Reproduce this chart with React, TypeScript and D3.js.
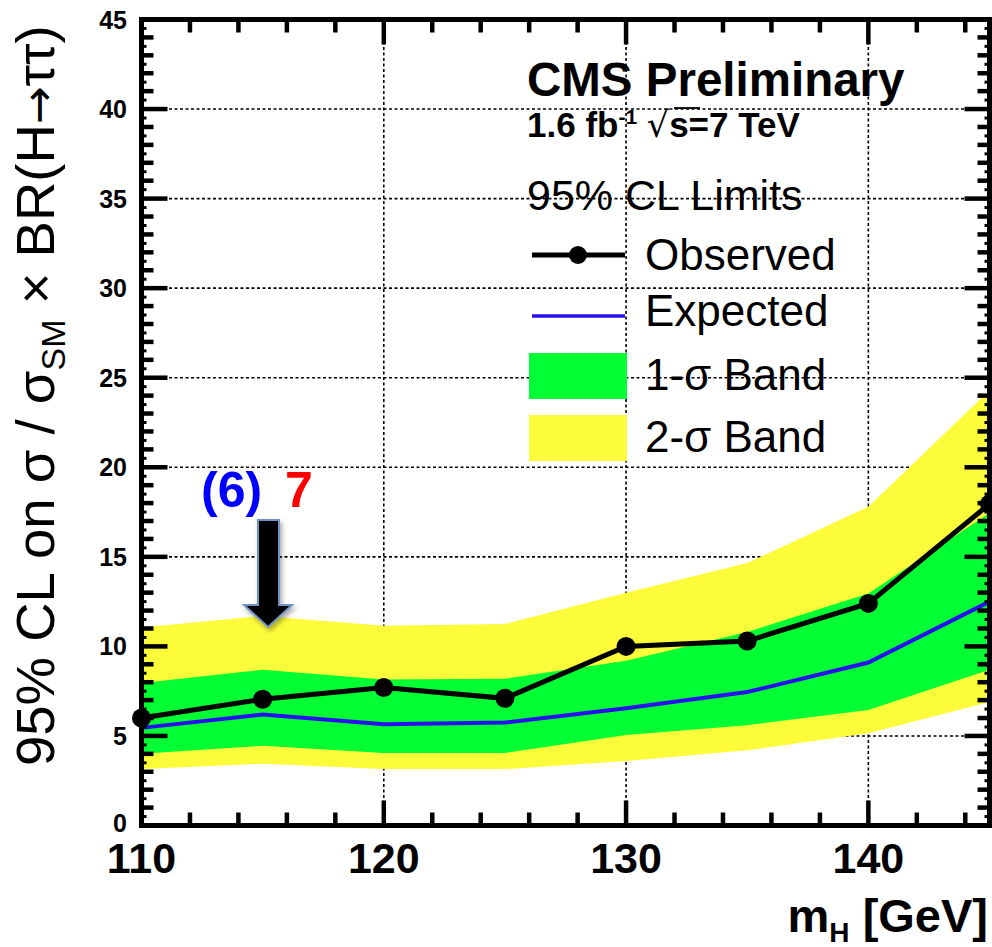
import React from 'react';
import * as d3 from 'd3';

const masses = [110, 115, 120, 125, 130, 135, 140, 145];
const observed = [6.0, 7.05, 7.7, 7.1, 10.0, 10.3, 12.4, 17.95];
const expected = [5.45, 6.2, 5.65, 5.75, 6.55, 7.45, 9.1, 12.5];
const band1Lo = [4.0, 4.45, 4.05, 4.05, 5.05, 5.6, 6.45, 8.7];
const band1Hi = [7.95, 8.7, 8.15, 8.2, 9.2, 10.8, 12.95, 17.45];
const band2Lo = [3.15, 3.45, 3.15, 3.15, 3.6, 4.2, 5.15, 6.9];
const band2Hi = [11.05, 11.7, 11.15, 11.25, 13.0, 14.65, 17.8, 24.3];
const yTickLabels = [0, 5, 10, 15, 20, 25, 30, 35, 40, 45];
const xTickLabels = [110, 120, 130, 140];
const xDomain = [110, 145];
const yDomain = [0, 45];

const FONT = "'Liberation Sans', Arial, Helvetica, sans-serif";
const GREEN = '#00ff33';
const YELLOW = '#fcfc3a';
const BLUE = '#2a10ee';

export default function App() {
  const W = 992, H = 947;
  const x = d3.scaleLinear().domain(xDomain).range([141.5, 989.5]);
  const y = d3.scaleLinear().domain(yDomain).range([825.5, 19.5]);

  const idx = masses.map((_, i) => i);
  const area = (lo: number[], hi: number[]) =>
    d3.area<number>().x(i => x(masses[i])).y0(i => y(lo[i])).y1(i => y(hi[i]))(idx) || '';
  const line = (v: number[]) => d3.line<number>().x(i => x(masses[i])).y(i => y(v[i]))(idx) || '';

  const xMinor = d3.range(110, 145.01, 2).filter(v => v % 10 !== 0);
  const xMajor = d3.range(110, 145.01, 10);
  const yMinor = d3.range(0, 45.01, 1).filter(v => v % 5 !== 0);
  const yHalf = d3.range(0.5, 45, 1);
  const yMajor = d3.range(0, 45.01, 5);
  const gridY = d3.range(5, 45, 5);
  const gridX = [120, 130, 140];

  const x0 = x(110), x1 = x(145), y0 = y(0), y1 = y(45);

  return (
    <svg width={W} height={H} style={{ position: 'absolute', left: 0, top: 0, background: '#fff' }} fontFamily={FONT}>
      <defs>
        <filter id="shadow" x="-50%" y="-50%" width="200%" height="200%">
          <feDropShadow dx="2" dy="3" stdDeviation="2.5" floodColor="#000" floodOpacity="0.35" />
        </filter>
      </defs>
      <rect x={0} y={0} width={W} height={H} fill="#fff" />
      {/* grid */}
      <g stroke="#000" strokeWidth={1.6} strokeDasharray="3 2.5">
        {gridY.map(v => <line key={'gy' + v} x1={x0} x2={x1} y1={y(v)} y2={y(v)} />)}
        {gridX.map(v => <line key={'gx' + v} x1={x(v)} x2={x(v)} y1={y0} y2={y1} />)}
      </g>
      {/* bands */}
      <path d={area(band2Lo, band2Hi)} fill={YELLOW} />
      <path d={area(band1Lo, band1Hi)} fill={GREEN} />
      {/* expected */}
      <path d={line(expected)} fill="none" stroke={BLUE} strokeWidth={4} />
      {/* observed */}
      <path d={line(observed)} fill="none" stroke="#000" strokeWidth={5} />
      {masses.map((m, i) => <circle key={'o' + m} cx={x(m)} cy={y(observed[i])} r={9.5} fill="#000" />)}

      {/* ticks */}
      <g stroke="#000">
        {yMajor.map(v => (
          <g key={'ym' + v} strokeWidth={4.5}>
            <line x1={x0} x2={x0 + 26} y1={y(v)} y2={y(v)} />
            <line x1={x1} x2={x1 - 25} y1={y(v)} y2={y(v)} />
          </g>
        ))}
        {yMinor.map(v => (
          <g key={'yn' + v} strokeWidth={4.5}>
            <line x1={x0} x2={x0 + 12} y1={y(v)} y2={y(v)} />
            <line x1={x1} x2={x1 - 12} y1={y(v)} y2={y(v)} />
          </g>
        ))}
        {yHalf.map(v => (
          <g key={'yh' + v} strokeWidth={3}>
            <line x1={x0} x2={x0 + 5} y1={y(v)} y2={y(v)} />
            <line x1={x1} x2={x1 - 5} y1={y(v)} y2={y(v)} />
          </g>
        ))}
        {xMajor.map(v => (
          <g key={'xm' + v} strokeWidth={4.5}>
            <line x1={x(v)} x2={x(v)} y1={y0} y2={y0 - 25} />
            <line x1={x(v)} x2={x(v)} y1={y1} y2={y1 + 25} />
          </g>
        ))}
        {xMinor.map(v => (
          <g key={'xn' + v} strokeWidth={4.5}>
            <line x1={x(v)} x2={x(v)} y1={y0} y2={y0 - 13} />
            <line x1={x(v)} x2={x(v)} y1={y1} y2={y1 + 13} />
          </g>
        ))}
      </g>
      {/* frame */}
      <rect x={x0} y={y1} width={x1 - x0} height={y0 - y1} fill="none" stroke="#000" strokeWidth={5} />

      {/* y tick labels */}
      {yTickLabels.map(v => (
        <text key={'yl' + v} x={127} y={y(v) + (v === 0 ? 6 : 9)} textAnchor="end" fontSize={25} fontWeight="bold" fill="#000">{v}</text>
      ))}
      {/* x tick labels */}
      {xTickLabels.map(v => (
        <text key={'xl' + v} x={x(v)} y={873} textAnchor="middle" fontSize={43} fontWeight="bold" fill="#000">{v}</text>
      ))}

      {/* x axis title */}
      <text x={988} y={932} textAnchor="end" fontSize={47} fontWeight="bold" fill="#000">
        m<tspan fontSize={28} dy={10}>H</tspan><tspan dy={-10}> [GeV]</tspan>
      </text>

      {/* y axis title */}
      <text transform="translate(54,766) rotate(-90)" fontSize={54.5} fill="#000">
        95% CL on σ / σ<tspan fontSize={34} dy={11}>SM</tspan><tspan dy={-11}> × BR(H</tspan><tspan fontFamily="'DejaVu Sans'" fontSize={45}>→</tspan><tspan>ττ)</tspan>
      </text>

      {/* legend */}
      <text x={527} y={96} fontSize={47.5} fontWeight="bold" fill="#000">CMS Preliminary</text>
      <text x={527} y={137} fontSize={35} fontWeight="bold" fill="#000">
        1.6 fb<tspan fontSize={21} dy={-13}>-1</tspan><tspan dy={13}> </tspan><tspan fontFamily="'DejaVu Sans'" fontWeight="normal">√</tspan><tspan>s=7 TeV</tspan>
      </text>
      <line x1={674} x2={700} y1={108} y2={108} stroke="#000" strokeWidth={1.8} />
      <text x={527} y={210} fontSize={43} fill="#000">95% CL Limits</text>

      <line x1={532} x2={625} y1={255} y2={255} stroke="#000" strokeWidth={5} />
      <circle cx={578} cy={255} r={9} fill="#000" />
      <text x={645} y={270} fontSize={44} fill="#000">Observed</text>

      <line x1={532} x2={625} y1={316} y2={316} stroke={BLUE} strokeWidth={3.5} />
      <text x={645} y={326} fontSize={44} fill="#000">Expected</text>

      <rect x={529} y={353} width={98} height={46} fill={GREEN} />
      <text x={645} y={390} fontSize={44} fill="#000">1-σ Band</text>

      <rect x={529} y={415} width={98} height={46} fill={YELLOW} />
      <text x={645} y={452} fontSize={44} fill="#000">2-σ Band</text>

      {/* annotation */}
      <text x={201} y={507} fontSize={50} fontWeight="bold" fill="#0000ff">(6)</text>
      <text x={285} y={507} fontSize={50} fontWeight="bold" fill="#ff0000">7</text>
      <path d="M258,520 L279,520 L279,605 L292,605 L268,627 L244,605 L258,605 Z"
        fill="#000" stroke="#6f93c3" strokeWidth={2} filter="url(#shadow)" />
    </svg>
  );
}
